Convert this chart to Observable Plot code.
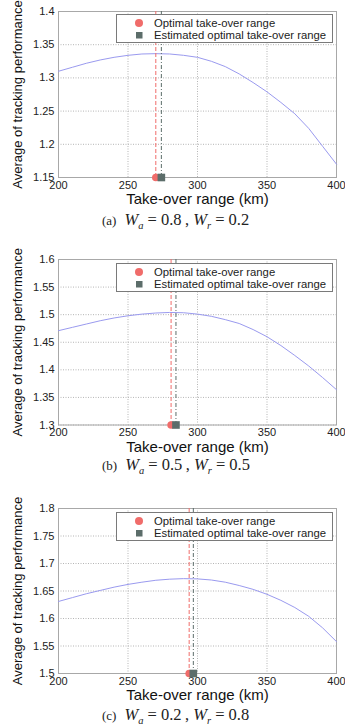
<!DOCTYPE html>
<html>
<head>
<meta charset="utf-8">
<script src="https://cdn.jsdelivr.net/npm/d3@7"></script>
<script src="https://cdn.jsdelivr.net/npm/@observablehq/plot@0.6"></script>
<style>
  html, body { margin: 0; padding: 0; background: #fff; }
  #page { position: relative; width: 345px; height: 726px; overflow: hidden; background: #fff; }
  .panel { position: absolute; left: 0; }
  .panel svg { display: block; overflow: visible; }
  g[aria-label="x-axis label"], g[aria-label="x-axis label"] text { font-size: 15px; fill: #111; }
  g[aria-label="y-axis label"], g[aria-label="y-axis label"] text { font-size: 13px; fill: #111; }
  .legend {
    position: absolute; left: 116px; width: 215px; height: 27px;
    border: 1px solid #7a7a7a; background: #fff;
    font-family: "Liberation Sans", Arial, sans-serif; font-size: 11.3px; color: #222;
  }
  .legend .row { position: absolute; left: 0; height: 12px; line-height: 12px; white-space: nowrap; }
  .legend .row span.txt { position: absolute; left: 37px; top: 0; }
  .legend .sym { position: absolute; left: 17px; top: 0; }
  .caption {
    position: absolute; left: 102px; white-space: nowrap; line-height: 12px;
    font-family: "Liberation Serif", "Times New Roman", serif; color: #222;
  }
  .caption .tag { font-size: 13px; }
  .caption .math { font-size: 16.5px; }
  .caption sub { font-size: 10.5px; font-style: italic; line-height: 0; }
</style>
</head>
<body>
<div id="page"></div>
<script>
// Take-over range (km) sampled along each curve
const rangeKm = [200, 210, 220, 230, 240, 250, 260, 270, 280, 290, 300, 310, 320, 330, 340, 350, 360, 370, 380, 390, 400];

// Average tracking performance, (a) Wa = 0.8, Wr = 0.2
const perfA = [1.310, 1.316, 1.322, 1.327, 1.331, 1.334, 1.336, 1.3365, 1.336, 1.334, 1.331, 1.325, 1.317, 1.306, 1.293, 1.279, 1.263, 1.246, 1.224, 1.197, 1.170];
// (b) Wa = 0.5, Wr = 0.5
const perfB = [1.471, 1.477, 1.483, 1.489, 1.494, 1.498, 1.501, 1.503, 1.504, 1.5035, 1.501, 1.497, 1.491, 1.484, 1.473, 1.460, 1.444, 1.426, 1.407, 1.386, 1.364];
// (c) Wa = 0.2, Wr = 0.8
const perfC = [1.631, 1.638, 1.645, 1.651, 1.657, 1.662, 1.666, 1.6695, 1.6715, 1.6725, 1.672, 1.670, 1.666, 1.660, 1.653, 1.644, 1.633, 1.620, 1.604, 1.583, 1.558];

// Optimal and estimated optimal take-over range (km)
const optimalRange = [270, 281, 294];
const estimatedRange = [274, 284.5, 297];

// Axis ticks
const xTicks = [200, 250, 300, 350, 400];
const yTicksA = [1.15, 1.2, 1.25, 1.3, 1.35, 1.4];
const yTicksB = [1.3, 1.35, 1.4, 1.45, 1.5, 1.55, 1.6];
const yTicksC = [1.5, 1.55, 1.6, 1.65, 1.7, 1.75, 1.8];

// Panel captions
const panelTags = ["(a)", "(b)", "(c)"];
const weightA = ["0.8", "0.5", "0.2"];
const weightR = ["0.2", "0.5", "0.8"];

const legendLabels = ["Optimal take-over range", "Estimated optimal take-over range"];

const curveColor = "#9a9aef";
const optColor = "#f06c6a";
const estColor = "#5c6d6a";
const gridColor = "#b5b5b5";

const panels = [
  {perf: perfA, yTicks: yTicksA, top: 0, plotH: 166, xTickPad: 4, xLabelOffset: 26.5, legendTop: 14, captionTop: 214},
  {perf: perfB, yTicks: yTicksB, top: 248, plotH: 165.5, xTickPad: 3, xLabelOffset: 27, legendTop: 263, captionTop: 458.5},
  {perf: perfC, yTicks: yTicksC, top: 497, plotH: 165, xTickPad: 4, xLabelOffset: 26.5, legendTop: 512, captionTop: 709}
];

const page = document.getElementById("page");

panels.forEach((p, i) => {
  const rows = rangeKm.map((r, k) => ({range: r, perf: p.perf[k]}));
  const yDomain = [p.yTicks[0], p.yTicks[p.yTicks.length - 1]];
  const yBase = yDomain[0];
  const marginTop = 11, marginBottom = 30;

  const chart = Plot.plot({
    width: 345,
    height: marginTop + p.plotH + marginBottom,
    marginLeft: 58,
    marginRight: 9,
    marginTop,
    marginBottom,
    style: {fontFamily: "'Liberation Sans', Arial, sans-serif", fontSize: "11px", color: "#222", background: "transparent", overflow: "visible"},
    x: {domain: [200, 400], ticks: xTicks, tickSize: 0, tickPadding: p.xTickPad, label: "Take-over range (km)", labelAnchor: "center", labelArrow: "none", labelOffset: p.xLabelOffset},
    y: {domain: yDomain, ticks: p.yTicks, tickSize: 0, tickPadding: 4, tickFormat: d => String(+d.toFixed(2)), label: "Average of tracking performance", labelAnchor: "center", labelArrow: "none", labelOffset: 46.2},
    marks: [
      Plot.gridX(xTicks, {stroke: gridColor, strokeOpacity: 1, strokeDasharray: "1,1.5"}),
      Plot.gridY(p.yTicks, {stroke: gridColor, strokeOpacity: 1, strokeDasharray: "1,1.5"}),
      Plot.frame({stroke: "#a8a8a8"}),
      Plot.line(rows, {x: "range", y: "perf", stroke: curveColor, strokeWidth: 1}),
      Plot.ruleX([optimalRange[i]], {stroke: optColor, strokeWidth: 1, strokeDasharray: "4,2"}),
      Plot.ruleX([estimatedRange[i]], {stroke: estColor, strokeWidth: 1, strokeDasharray: "4,2,1,2"}),
      Plot.dot([{x: optimalRange[i], y: yBase}], {x: "x", y: "y", symbol: "circle", r: 3.8, fill: optColor, stroke: "none"}),
      Plot.dot([{x: estimatedRange[i], y: yBase}], {x: "x", y: "y", symbol: "square", r: 4.3, fill: estColor, stroke: "none"})
    ]
  });

  const wrap = document.createElement("div");
  wrap.className = "panel";
  wrap.style.top = p.top + "px";
  wrap.appendChild(chart);
  page.appendChild(wrap);

  // Legend box over the upper right of the axes
  const legend = document.createElement("div");
  legend.className = "legend";
  legend.style.top = p.legendTop + "px";
  legend.innerHTML =
    `<div class="row" style="top:2px"><svg class="sym" width="10" height="12"><circle cx="5" cy="6" r="4" fill="${optColor}"/></svg><span class="txt">${legendLabels[0]}</span></div>` +
    `<div class="row" style="top:14px"><svg class="sym" width="10" height="12"><rect x="2" y="3" width="6.5" height="6.5" fill="${estColor}"/></svg><span class="txt">${legendLabels[1]}</span></div>`;
  page.appendChild(legend);

  // Caption under the panel
  const cap = document.createElement("div");
  cap.className = "caption";
  cap.style.top = p.captionTop + "px";
  cap.innerHTML = `<span class="tag">${panelTags[i]}</span>&nbsp;&nbsp;<span class="math"><i>W</i><sub>a</sub> = ${weightA[i]}&thinsp;, <i>W</i><sub>r</sub> = ${weightR[i]}</span>`;
  page.appendChild(cap);
});
</script>
</body>
</html>
